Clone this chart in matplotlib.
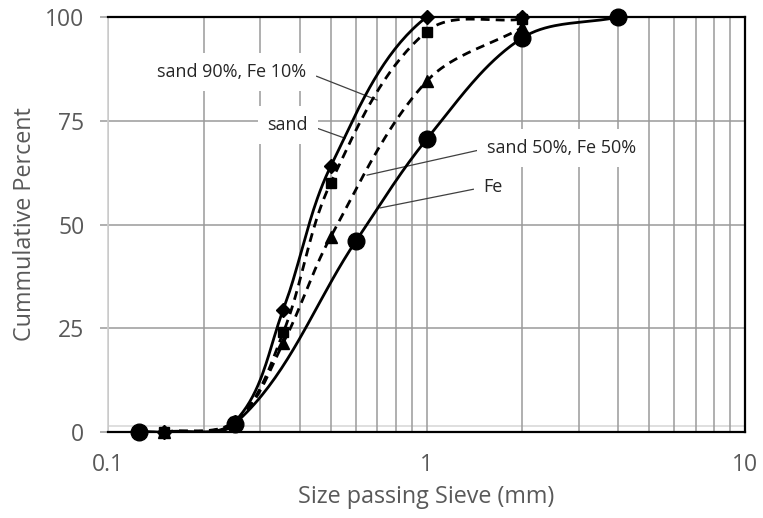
import numpy as np
import matplotlib
matplotlib.use("Agg")
import matplotlib.pyplot as plt
from matplotlib.ticker import LogLocator, NullFormatter, FixedLocator

plt.rcParams["font.family"] = ["Open Sans", "DejaVu Sans"]

# sieve sizes (mm) and cumulative percent passing
sizes_fe = [0.125, 0.25, 0.6, 1.0, 2.0, 4.0]
fe = [0, 2, 46, 70.5, 95, 100]

sizes_mix = [0.15, 0.25, 0.355, 0.5, 1.0, 2.0]
sand = [0, 2.5, 29.5, 64, 100, 100]
sand90_fe10 = [0, 2.5, 24, 60, 96.5, 99.5]
sand50_fe50 = [0, 2.5, 21.5, 47, 84.5, 97.5]

y_ticks = [0, 25, 50, 75, 100]
x_ticks = [0.1, 1, 10]
x_ticklabels = ["0.1", "1", "10"]

TICK_GRAY = "#595959"
GRID_GRAY = "#9a9a9a"


def smooth_line(ax, xs, ys, n=40):
    # smoothed line like excel: bezier through the points, built in display space
    pts = ax.transData.transform(np.column_stack([xs, ys]))
    pts = np.vstack([pts[0], pts, pts[-1]])
    out = []
    t = np.linspace(0, 1, n)[:, None]

    def unit(v):
        d = np.hypot(*v)
        return v / d if d > 0 else v

    for i in range(1, len(pts) - 2):
        p0, p1, p2, p3 = pts[i - 1], pts[i], pts[i + 1], pts[i + 2]
        seg_len = np.hypot(*(p2 - p1))
        c1 = p1 + unit(p2 - p0) * seg_len / 3.0
        c2 = p2 - unit(p3 - p1) * seg_len / 3.0
        seg = ((1 - t) ** 3) * p1 + 3 * ((1 - t) ** 2) * t * c1 + 3 * (1 - t) * t ** 2 * c2 + t ** 3 * p2
        out.append(seg)
    out = np.vstack(out)
    back = ax.transData.inverted().transform(out)
    return back[:, 0], back[:, 1]


fig = plt.figure(figsize=(7.63, 5.18), dpi=100)
ax = fig.add_axes([0.1415, 0.166, 0.835, 0.801])
ax.set_xscale("log")
ax.set_xlim(0.1, 10)
ax.set_ylim(0, 100)

ax.xaxis.set_major_locator(FixedLocator(x_ticks))
ax.set_xticklabels(x_ticklabels)
ax.xaxis.set_minor_locator(LogLocator(base=10, subs=np.arange(2, 10)))
ax.xaxis.set_minor_formatter(NullFormatter())
ax.set_yticks(y_ticks)

ax.grid(True, which="both", axis="x", color=GRID_GRAY, linewidth=1.1)
ax.grid(True, which="major", axis="y", color=GRID_GRAY, linewidth=1.1)
ax.set_axisbelow(True)
ax.axhline(1.4, color="#d9d9d9", linewidth=1.2, zorder=0.5)

for side in ["top", "right", "bottom"]:
    ax.spines[side].set_color("black")
    ax.spines[side].set_linewidth(1.6)
ax.spines["left"].set_color("#d0d0d0")
ax.spines["left"].set_linewidth(1.2)

ax.tick_params(axis="x", which="both", length=0, labelsize=16.5, labelcolor=TICK_GRAY, pad=15)
ax.tick_params(axis="y", which="major", length=6, width=1.1, color=GRID_GRAY, labelsize=16.5,
               labelcolor=TICK_GRAY, pad=11)

series = [
    (sizes_mix, sand, "D", 7, "-"),
    (sizes_mix, sand90_fe10, "s", 7.5, (0, (3.2, 2.2))),
    (sizes_mix, sand50_fe50, "^", 8.5, (0, (3.2, 2.2))),
    (sizes_fe, fe, "o", 12, "-"),
]
fig.canvas.draw()
for xs, ys, mk, ms, ls in series:
    sx, sy = smooth_line(ax, xs, ys)
    ax.plot(sx, sy, color="black", linewidth=2.0, linestyle=ls, zorder=3)
    ax.plot(xs, ys, linestyle="none", marker=mk, markersize=ms, color="black", zorder=4, clip_on=False)

box = dict(boxstyle="square,pad=0.55", facecolor="white", edgecolor="none")
leader = dict(arrowstyle="-", color="#404040", linewidth=0.9, shrinkA=0, shrinkB=0)
notes = [
    ("sand 90%, Fe 10%", (0.245, 86.7), (0.70, 80.0), (1, 0.5)),
    ("sand", (0.367, 74.0), (0.555, 70.8), (1, 0.5)),
    ("sand 50%, Fe 50%", (2.66, 68.4), (0.65, 61.9), (0, 0.5)),
    ("Fe", (1.62, 59.0), (0.714, 54.0), (0, 0.5)),
]
for txt, pos, target, rel in notes:
    ax.annotate(txt, xy=target, xytext=pos, ha="center", va="center", fontsize=13,
                color="#262626", bbox=box, zorder=2,
                arrowprops=dict(leader, relpos=rel))

ax.set_xlabel("Size passing Sieve (mm)", fontsize=16.8, color=TICK_GRAY, labelpad=6)
ax.set_ylabel("Cummulative Percent", fontsize=16.8, color=TICK_GRAY, labelpad=6)

fig.savefig("out.png", dpi=100)
